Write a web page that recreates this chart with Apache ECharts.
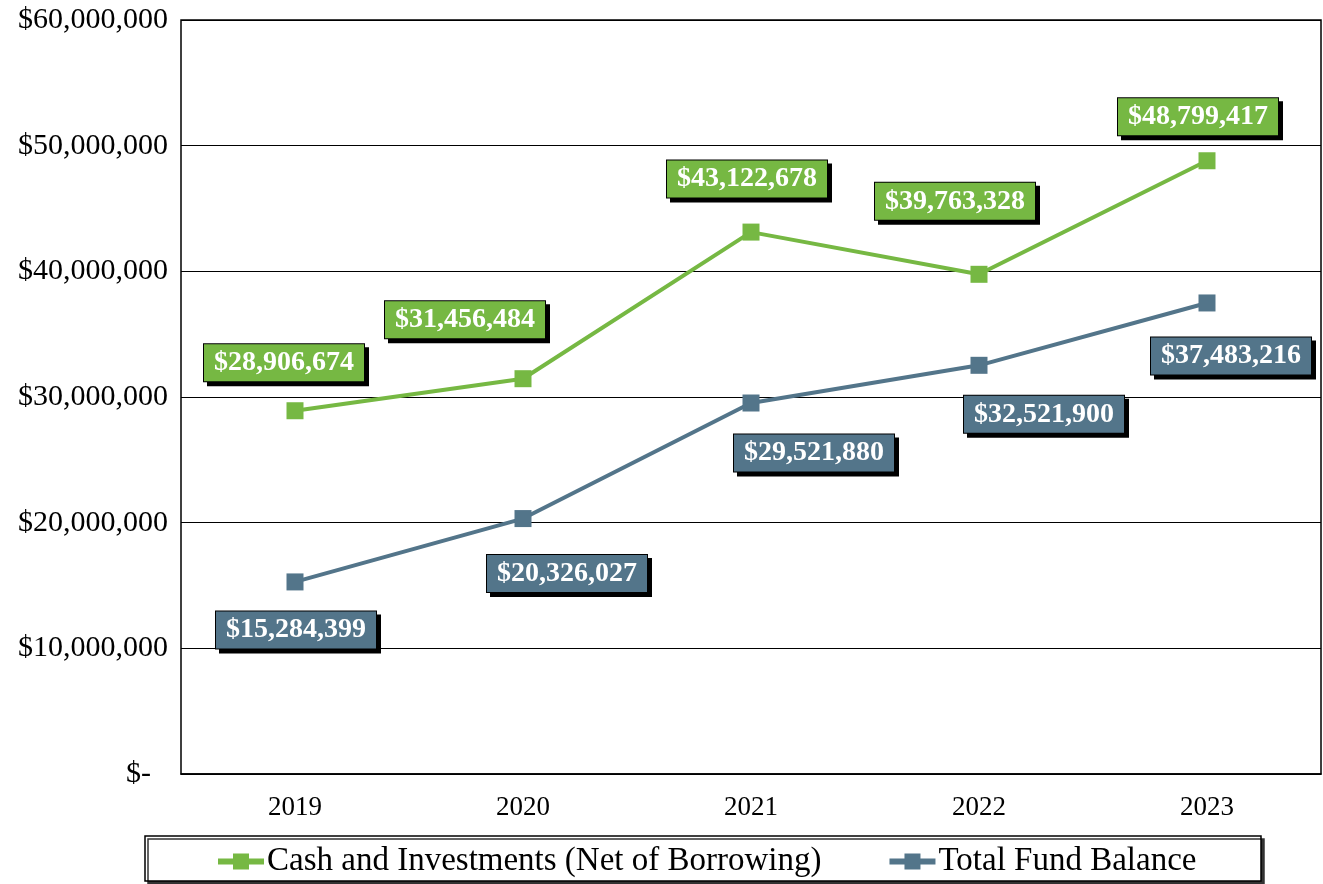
<!DOCTYPE html>
<html>
<head>
<meta charset="utf-8">
<script src="https://cdn.jsdelivr.net/npm/echarts@6/dist/echarts.min.js"></script>
<style>
  html, body { margin: 0; padding: 0; background: #fff; }
  #chart { width: 1323px; height: 884px; }
</style>
</head>
<body>
<div id="chart"></div>
<script>
const years = ['2019', '2020', '2021', '2022', '2023']
const cashName = 'Cash and Investments (Net of Borrowing)'
const fundName = 'Total Fund Balance'
const cashValues = [28906674, 31456484, 43122678, 39763328, 48799417]
const fundValues = [15284399, 20326027, 29521880, 32521900, 37483216]

// label offsets relative to the point (placement only)
const cashOffsets = [[-11, -48], [-58, -59], [-4, -53], [-24, -73], [-9, -44]]
const fundOffsets = [[1, 48], [44, 55], [63, 50], [65, 49], [24, 53]]

const GREEN = '#76b843'
const BLUE = '#53758a'
const FONT = '"Liberation Serif", "Times New Roman", serif'
// line + square legend marker, drawn in a 46x16 box
const LEGEND_ICON = 'path://M0,5H15V0H31V5H46V11H31V16H15V11H0Z'

function money(v) {
  return '$' + v.toLocaleString('en-US')
}

function buildData(values, offsets, color) {
  return values.map((v, i) => ({
    value: v,
    label: {
      show: true,
      position: 'inside',
      offset: offsets[i],
      formatter: (p) => money(p.value),
      color: '#fff',
      fontFamily: FONT,
      fontWeight: 'bold',
      fontSize: 28,
      lineHeight: 28,
      backgroundColor: color,
      borderColor: '#000',
      borderWidth: 1,
      padding: [5, 10, 4, 10],
      shadowColor: '#000',
      shadowOffsetX: 4,
      shadowOffsetY: 4,
      shadowBlur: 0,
    },
  }))
}

const chart = echarts.init(document.getElementById('chart'))
chart.setOption({
  animation: false,
  textStyle: { fontFamily: FONT },
  grid: { left: 181, top: 20, right: 2, bottom: 110, show: true, borderColor: '#000', borderWidth: 1.5 },
  graphic: [{
    type: 'rect',
    z: -1,
    shape: { x: 145, y: 836, width: 1116, height: 45 },
    style: { fill: '#fff', stroke: '#000', lineWidth: 1.5, shadowColor: '#333', shadowOffsetX: 3, shadowOffsetY: 3, shadowBlur: 0 },
  }],
  legend: {
    top: 840,
    left: 213,
    itemGap: 68,
    itemWidth: 46,
    itemHeight: 16,
    textStyle: { fontFamily: FONT, fontSize: 33, color: '#000', padding: [0, 0, 0, -2] },
    data: [
      { name: cashName, icon: LEGEND_ICON, itemStyle: { color: GREEN } },
      { name: fundName, icon: LEGEND_ICON, itemStyle: { color: BLUE } },
    ],
  },
  xAxis: {
    type: 'category',
    data: years,
    boundaryGap: true,
    axisLine: { show: true, lineStyle: { color: '#000', width: 1.5 } },
    axisTick: { show: false },
    axisLabel: { color: '#000', fontFamily: FONT, fontSize: 27, margin: 20 },
  },
  yAxis: {
    type: 'value',
    min: 0,
    max: 60000000,
    interval: 10000000,
    axisLine: { show: false },
    axisTick: { show: false },
    splitLine: { lineStyle: { color: '#000', width: 1 } },
    axisLabel: {
      color: '#000',
      fontFamily: FONT,
      fontSize: 30,
      margin: 13,
      formatter: (v) => (v === 0 ? '{z|$-}' : money(v)),
      rich: { z: { fontFamily: FONT, fontSize: 30, color: '#000', padding: [0, 17, 0, 0] } },
    },
  },
  series: [
    {
      name: cashName,
      type: 'line',
      data: buildData(cashValues, cashOffsets, GREEN),
      symbol: 'rect',
      symbolSize: 17,
      itemStyle: { color: GREEN },
      lineStyle: { color: GREEN, width: 4 },
      z: 3,
    },
    {
      name: fundName,
      type: 'line',
      data: buildData(fundValues, fundOffsets, BLUE),
      symbol: 'rect',
      symbolSize: 17,
      itemStyle: { color: BLUE },
      lineStyle: { color: BLUE, width: 4 },
      z: 3,
    },
  ],
})
</script>
</body>
</html>
